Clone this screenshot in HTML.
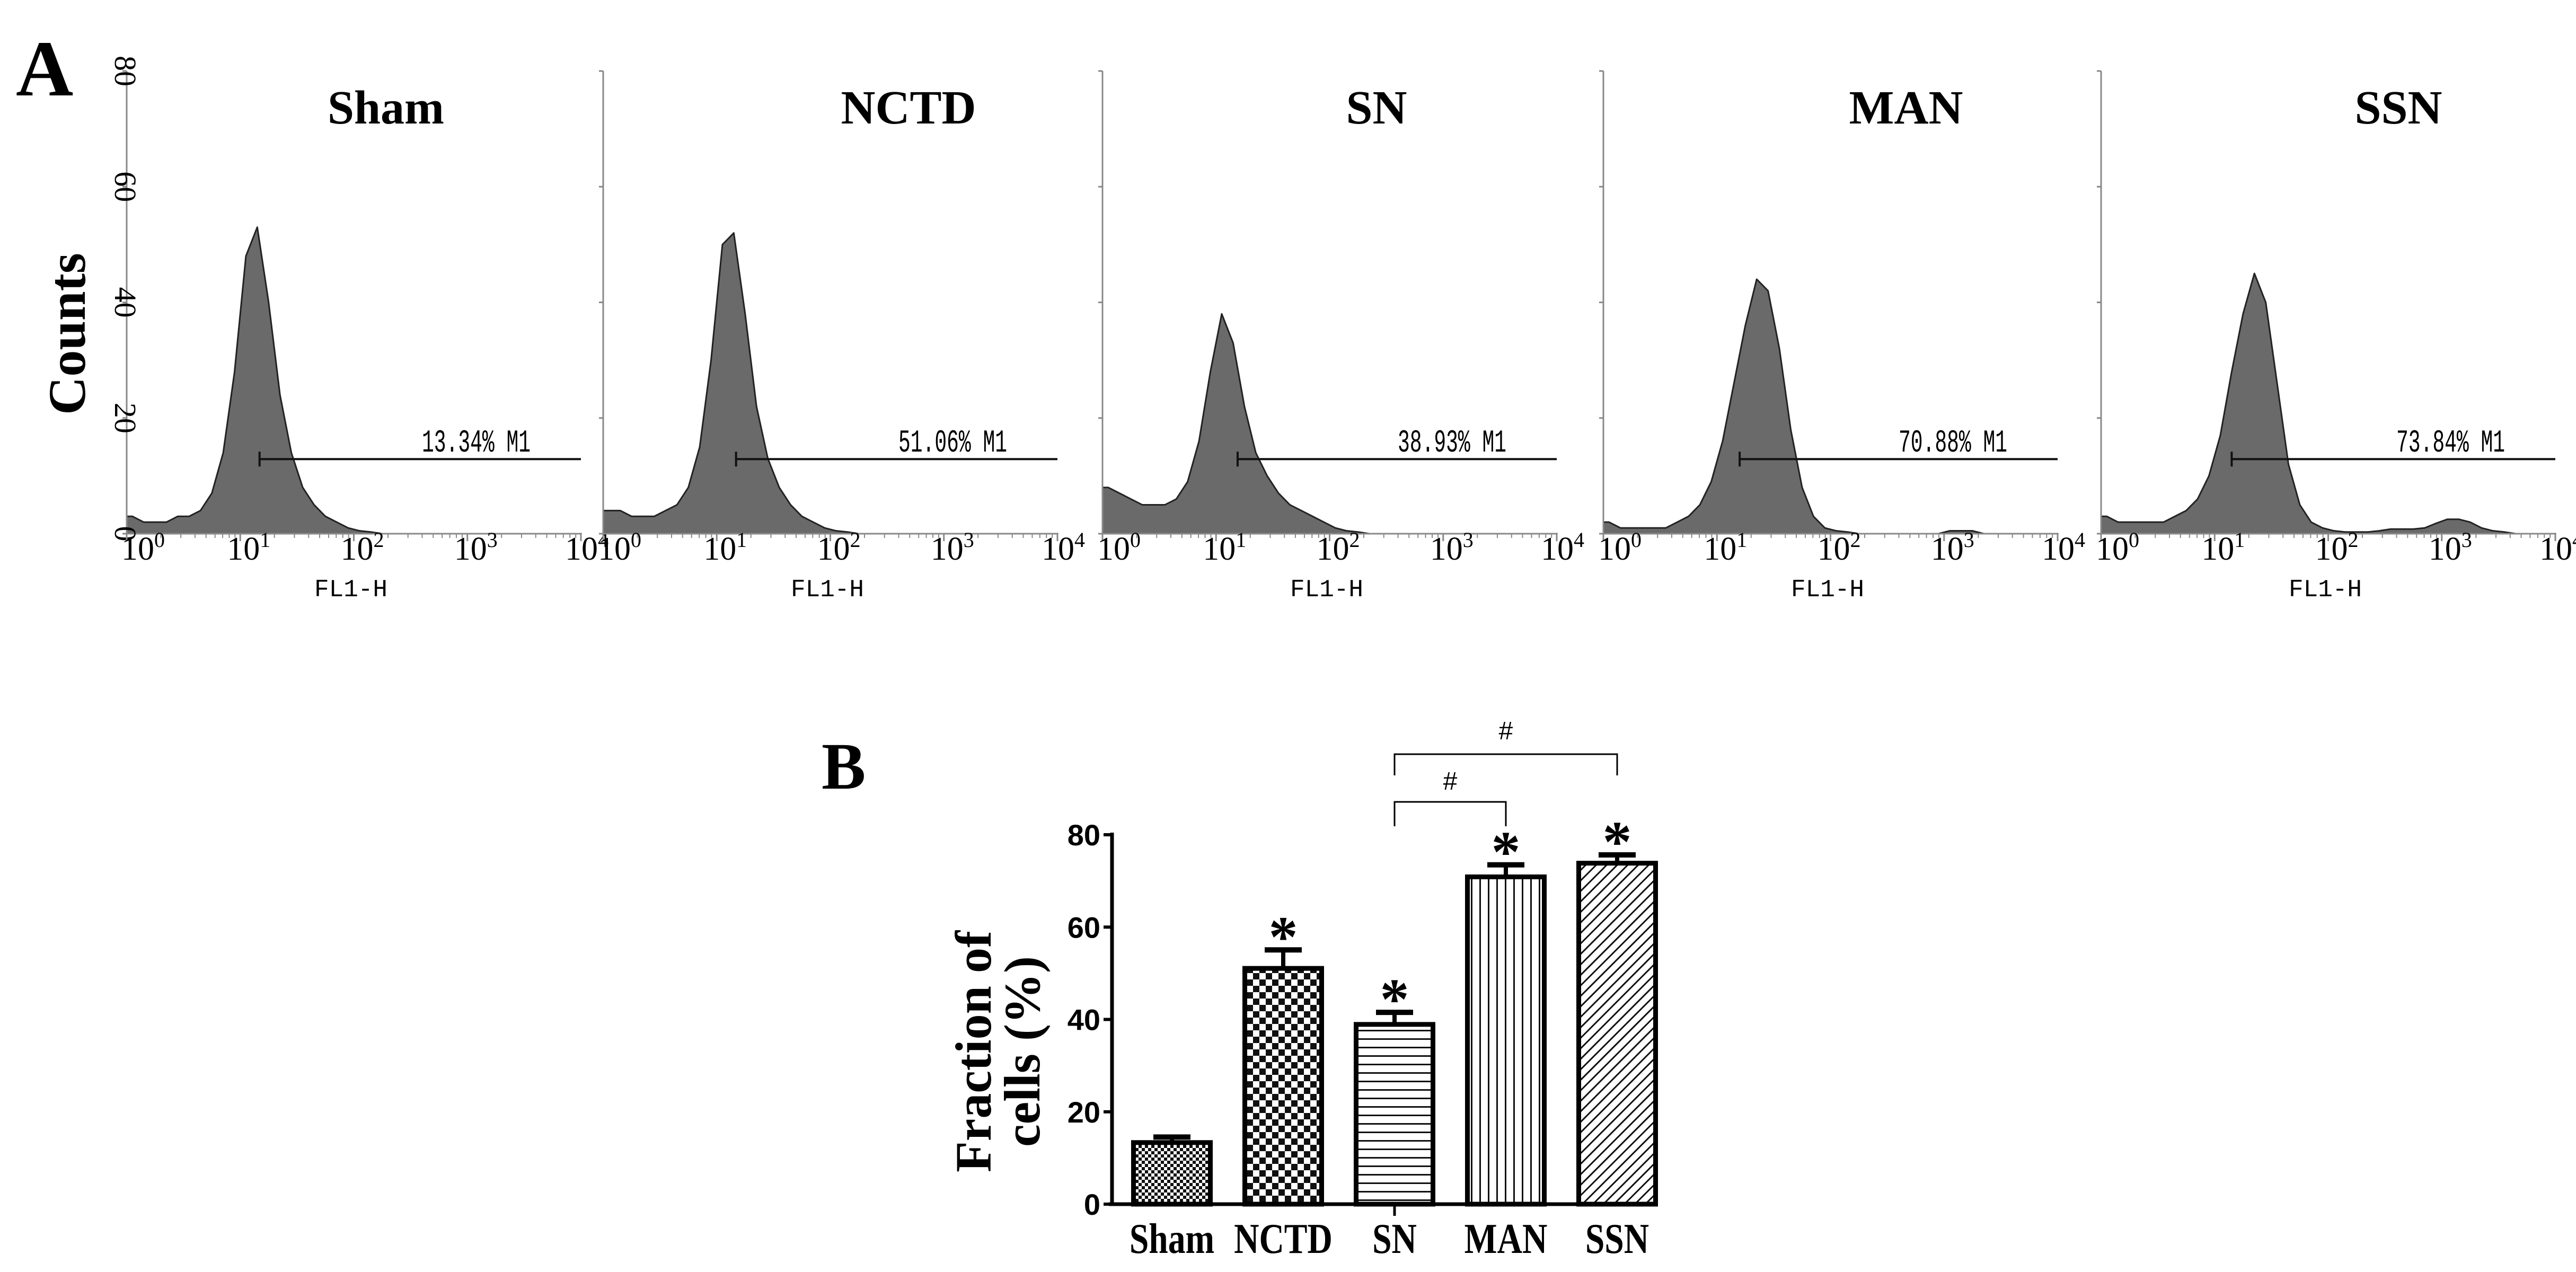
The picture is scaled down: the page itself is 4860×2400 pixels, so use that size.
<!DOCTYPE html>
<html><head><meta charset="utf-8"><style>
html,body{margin:0;padding:0;background:#fff;overflow:hidden}
svg{display:block}
</style></head><body>
<svg id="fig" width="4860" height="2400" viewBox="0 0 4860 2400" xmlns="http://www.w3.org/2000/svg">
<text x="30" y="180" font-family="Liberation Serif, serif" font-weight="bold" font-size="150">A</text>
<text transform="translate(160,630) rotate(-90)" text-anchor="middle" font-family="Liberation Serif, serif" font-weight="bold" font-size="100">Counts</text>
<text x="1550" y="1488" font-family="Liberation Serif, serif" font-weight="bold" font-size="125">B</text>
<g id="hists"></g>
<g id="bars"></g>
</svg>
<script>
// ---------- Panel A data ----------
const histNames = ["Sham","NCTD","SN","MAN","SSN"];
const histPercents = ["13.34%","51.06%","38.93%","70.88%","73.84%"];
const histGateStart = [1.17,1.17,1.19,1.2,1.15];
const histSham = [3,2,2,2,3,3,4,7,14,28,48,53,40,24,14,8,5,3,2,1,0.5,0.3,0,0,0,0,0,0,0,0,0,0,0,0,0,0,0,0,0,0];
const histNCTD = [4,4,3,3,3,4,5,8,15,30,50,52,38,22,13,8,5,3,2,1,0.5,0.3,0,0,0,0,0,0,0,0,0,0,0,0,0,0,0,0,0,0];
const histSN = [8,7,6,5,5,5,6,9,16,28,38,33,22,14,10,7,5,4,3,2,1,0.5,0.3,0,0,0,0,0,0,0,0,0,0,0,0,0,0,0,0,0];
const histMAN = [2,1,1,1,1,1,2,3,5,9,16,26,36,44,42,32,18,8,3,1,0.5,0.3,0,0,0,0,0,0,0,0,0.5,0.5,0.5,0,0,0,0,0,0,0];
const histSSN = [3,2,2,2,2,2,3,4,6,10,17,28,38,45,40,26,12,5,2,1,0.5,0.3,0.3,0.3,0.5,0.8,0.8,0.8,1,1.8,2.5,2.5,2,1,0.5,0.3,0,0,0,0];
const histSeries = [histSham,histNCTD,histSN,histMAN,histSSN];
const countTicks = [0,20,40,60,80];
const decadeTicks = [0,1,2,3,4];

// ---------- Panel B data ----------
const barCats = ["Sham","NCTD","SN","MAN","SSN"];
const barVals = [13.34,51.06,38.93,70.88,73.84];
const barErr = [1.2,4.0,2.6,2.6,1.8];
const barStar = [false,true,true,true,true];
const barTicks = [0,20,40,60,80];

const NS="http://www.w3.org/2000/svg";
function mk(tag,attrs,parent){const e=document.createElementNS(NS,tag);for(const k in attrs)e.setAttribute(k,attrs[k]);parent.appendChild(e);return e;}

const axX0=[239,1138,2080,3025,3964];
const titleOff=[489,576,517,571,561];
const axW=857, yTop=134, yBot=1007;
const hg=document.getElementById('hists');
histSeries.forEach((data,p)=>{
  const x0=axX0[p];
  const X=d=>x0+d/4*axW;
  const Y=c=>yBot-(c/80)*(yBot-yTop);
  const g=mk('g',{},hg);
  
  
  const n=data.length;
  let d='M'+X(0)+','+Y(0)+' L'+X(0)+','+Y(data[0]);
  data.forEach((v,i)=>{d+=' L'+X((i+0.5)*4/n)+','+Y(v);});
  d+=' L'+X(4)+','+Y(data[n-1])+' L'+X(4)+','+Y(0)+' Z';
  const path=mk('path',{d:d,fill:'#6a6a6a',stroke:'#222','stroke-width':3,'stroke-linejoin':'round'},g);
  
  
  mk('line',{x1:x0,y1:yTop,x2:x0,y2:yBot,stroke:'#888','stroke-width':3},g);
  mk('line',{x1:x0,y1:yBot,x2:X(4),y2:yBot,stroke:'#888','stroke-width':3},g);
  countTicks.forEach(c=>{
    mk('line',{x1:x0-8,y1:Y(c),x2:x0,y2:Y(c),stroke:'#888','stroke-width':3},g);
    if(p===0){
      const t=mk('text',{transform:`translate(${x0-22},${Y(c)}) rotate(90)`,'text-anchor':'middle','font-family':'Liberation Serif, serif','font-size':58},g);
      t.textContent=String(c);
      
      
    }
  });
  decadeTicks.forEach(k=>{
    mk('line',{x1:X(k),y1:yBot,x2:X(k),y2:yBot+14,stroke:'#888','stroke-width':3},g);
    if(k<4){for(let m=2;m<10;m++){const xm=X(k+Math.log10(m));mk('line',{x1:xm,y1:yBot,x2:xm,y2:yBot+8,stroke:'#888','stroke-width':2},g);}}
    const t=mk('text',{x:X(k)-(k===0?10:k===4?30:25),y:1056,'font-family':'Liberation Serif, serif','font-size':62},g);
    t.innerHTML='10<tspan dy="-24" font-size="40">'+k+'</tspan>';
    
    
  });
  const xl=mk('text',{x:x0+423,y:1125,'text-anchor':'middle','font-family':'Liberation Mono, monospace','font-size':46},g);
  xl.textContent='FL1-H';
  
  
  const tt=mk('text',{x:x0+titleOff[p],y:233,'text-anchor':'middle','font-family':'Liberation Serif, serif','font-weight':'bold','font-size':90},g);
  tt.textContent=histNames[p];
  
  
  const gy=Y(12.9), gx=X(histGateStart[p]);
  mk('line',{x1:gx,y1:gy,x2:X(4),y2:gy,stroke:'#111','stroke-width':4},g);
  mk('line',{x1:gx,y1:gy-14,x2:gx,y2:gy+14,stroke:'#111','stroke-width':4},g);
  const gl=mk('text',{x:X(4)-300,y:gy-14,'font-family':'Liberation Mono, monospace','font-size':60,textLength:205,lengthAdjust:'spacingAndGlyphs'},g);
  gl.textContent=histPercents[p]+' M1';
  
  
});

// ---------- bar chart ----------
const bg=document.getElementById('bars');
const defs=mk('defs',{},bg);
defs.innerHTML=`
<pattern id="p0" width="12" height="12" patternUnits="userSpaceOnUse"><rect width="12" height="12" fill="#fff"/><rect width="6" height="6" fill="#111"/><rect x="6" y="6" width="6" height="6" fill="#111"/></pattern>
<pattern id="p1" width="24" height="24" patternUnits="userSpaceOnUse"><rect width="24" height="24" fill="#fff"/><rect width="12" height="12" fill="#111"/><rect x="12" y="12" width="12" height="12" fill="#111"/></pattern>
<pattern id="p2" width="16" height="16" patternUnits="userSpaceOnUse"><rect width="16" height="16" fill="#fff"/><rect y="7" width="16" height="3" fill="#111"/></pattern>
<pattern id="p3" width="16" height="16" patternUnits="userSpaceOnUse"><rect width="16" height="16" fill="#fff"/><rect x="7" width="3" height="16" fill="#111"/></pattern>
<pattern id="p4" width="14" height="14" patternUnits="userSpaceOnUse" patternTransform="rotate(45)"><rect width="14" height="14" fill="#fff"/><rect x="6" width="3" height="14" fill="#111"/></pattern>`;
const bx0=2098, bx1=3125, by0=2272, by80=1575;
const BY=v=>by0-(v/80)*(by0-by80);
const BX=i=>2211+i*210;
const bw=145;
const NF='"Liberation Sans Narrow", "Liberation Sans", sans-serif';
barVals.forEach((v,i)=>{
  const cx=BX(i);
  const eTop=BY(v+barErr[i]);
  const e1=mk('line',{x1:cx,y1:BY(v),x2:cx,y2:eTop,stroke:'#000','stroke-width':8},bg);
  
  
  mk('line',{x1:cx-35,y1:eTop,x2:cx+35,y2:eTop,stroke:'#000','stroke-width':10},bg);
  const r=mk('rect',{x:cx-bw/2,y:BY(v),width:bw,height:by0-BY(v),fill:'url(#p'+i+')',stroke:'#000','stroke-width':9},bg);
  
  
  if(barStar[i]){
    const s=mk('text',{x:cx,y:eTop+12,'text-anchor':'middle','font-family':'Liberation Serif, serif','font-weight':'bold','font-size':110},bg);
    s.textContent='*';
    
    
  }
  const l=mk('text',{transform:`translate(${cx},2364) scale(0.82,1)`,'text-anchor':'middle','font-family':'Liberation Serif, serif','font-weight':'bold','font-size':80},bg);
  l.textContent=barCats[i];
  
  
});
mk('line',{x1:bx0,y1:by80-4,x2:bx0,y2:by0,stroke:'#000','stroke-width':7},bg);
mk('line',{x1:bx0-6,y1:by0,x2:bx1,y2:by0,stroke:'#000','stroke-width':7},bg);
mk('line',{x1:BX(2),y1:by0,x2:BX(2),y2:by0+22,stroke:'#000','stroke-width':5},bg);
barTicks.forEach(t=>{
  mk('line',{x1:bx0-16,y1:BY(t),x2:bx0,y2:BY(t),stroke:'#000','stroke-width':6},bg);
  const tl=mk('text',{x:bx0-22,y:BY(t)+20,'text-anchor':'end','font-family':NF,'font-weight':'bold','font-size':56},bg);
  tl.textContent=String(t);
  
  
});
const yt=mk('text',{transform:'translate(1891,1984) rotate(-90)','text-anchor':'middle','font-family':'Liberation Serif, serif','font-weight':'bold','font-size':96},bg);
yt.innerHTML='<tspan x="0" dy="-22">Fraction of</tspan><tspan x="0" dy="92">cells (%)</tspan>';


function bracket(x1,x2,y,yb,name,hy){
  const p=mk('path',{d:`M${x1},${yb} L${x1},${y} L${x2},${y} L${x2},${yb}`,fill:'none',stroke:'#000','stroke-width':3},bg);
  
  
  const h=mk('text',{x:(x1+x2)/2,y:hy,'text-anchor':'middle','font-family':'Liberation Sans, sans-serif','font-size':48},bg);
  h.textContent='#';
  
  
}
bracket(BX(2),BX(4),1423,1463,'bracket-sn-ssn',1395);
bracket(BX(2),BX(3),1513,1559,'bracket-sn-man',1490);
</script>
</body></html>
